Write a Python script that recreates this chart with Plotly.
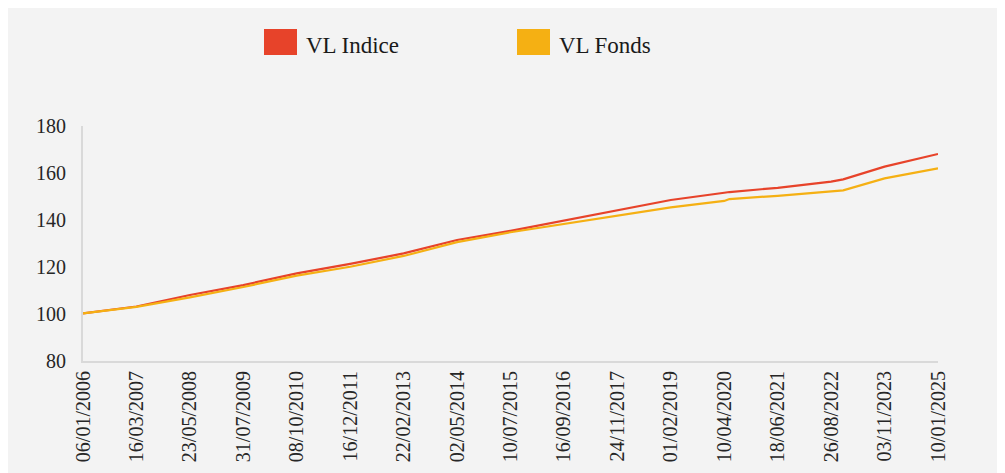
import plotly.graph_objects as go
from datetime import date

# ---- data ----
dates = ["2006-01-06", "2007-03-16", "2008-05-23", "2009-07-31", "2010-10-08",
         "2011-12-16", "2013-02-22", "2014-05-02", "2015-07-10", "2016-09-16",
         "2017-11-24", "2019-02-01", "2020-04-10", "2020-05-22", "2021-06-18",
         "2022-08-26", "2022-12-02", "2023-11-03", "2025-01-10"]
vl_indice = [100.3, 103.2, 108.1, 112.3, 117.3, 121.3, 125.8, 131.5, 135.4, 139.7,
             144.0, 148.5, 151.6, 151.9, 153.7, 156.3, 157.3, 162.7, 168.1]
vl_fonds = [100.3, 103.0, 107.1, 111.5, 116.3, 120.1, 124.7, 130.6, 134.8, 138.3,
            141.8, 145.4, 148.1, 148.9, 150.3, 152.0, 152.6, 157.7, 162.0]
tick_dates = ["2006-01-06", "2007-03-16", "2008-05-23", "2009-07-31", "2010-10-08",
              "2011-12-16", "2013-02-22", "2014-05-02", "2015-07-10", "2016-09-16",
              "2017-11-24", "2019-02-01", "2020-04-10", "2021-06-18", "2022-08-26",
              "2023-11-03", "2025-01-10"]
tick_labels = [date.fromisoformat(d).strftime("%d/%m/%Y") for d in tick_dates]
series_names = ["VL Indice", "VL Fonds"]
colors = ["#e7432a", "#f5b013"]

# ---- layout geometry (figure pixels) ----
W, H = 1005, 473
L, T = 75, 118
PW, PH = 855, 235
R, B = W - L - PW, H - T - PH


def px(x):
    return (x - L) / PW


def py(y):
    return (T + PH - y) / PH


FONT = "Liberation Serif"

fig = go.Figure()
for name, vals, col in zip(series_names, [vl_indice, vl_fonds], colors):
    fig.add_trace(go.Scatter(x=dates, y=vals, mode="lines", name=name,
                             line=dict(color=col, width=2.2), showlegend=False))

shapes = []
annotations = []
legend_x = [256, 509]
for name, col, lx in zip(series_names, colors, legend_x):
    shapes.append(dict(type="rect", xref="paper", yref="paper",
                       x0=px(lx), x1=px(lx + 33), y0=py(47), y1=py(21),
                       fillcolor=col, line=dict(width=0)))
    annotations.append(dict(text=name, xref="paper", yref="paper", x=px(lx + 40), y=py(37),
                            xanchor="left", yanchor="middle", showarrow=False,
                            font=dict(family=FONT, size=23, color="#1a1a1a")))

fig.update_layout(
    width=W, height=H,
    margin=dict(l=L, r=R, t=T, b=B),
    paper_bgcolor="#f3f3f3", plot_bgcolor="#f3f3f3",
    shapes=shapes, annotations=annotations,
    showlegend=False,
    xaxis=dict(range=[dates[0], dates[-1]], tickvals=tick_dates, ticktext=tick_labels,
               tickangle=-90, showgrid=False, zeroline=False,
               showline=True, linecolor="#d9d9d9", linewidth=2,
               tickfont=dict(family=FONT, size=20, color="#262626"), ticks="",
               ticklabelstandoff=0),
    yaxis=dict(range=[80, 180], tickvals=[80, 100, 120, 140, 160, 180],
               showgrid=False, zeroline=False,
               showline=True, linecolor="#d9d9d9", linewidth=2,
               tickfont=dict(family=FONT, size=20, color="#262626"), ticks="",
               ticklabelstandoff=11),
)

fig.write_html("out.html")
